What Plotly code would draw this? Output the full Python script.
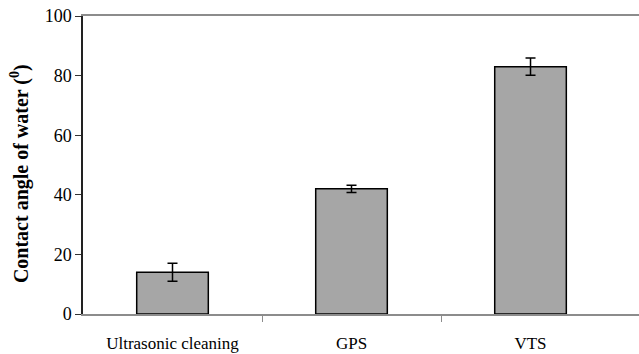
import plotly.graph_objects as go

categories = ["Ultrasonic cleaning", "GPS", "VTS"]
contact_angle = [14, 42, 83]
error = [3, 1.2, 2.9]
y_ticks = [0, 20, 40, 60, 80, 100]

x_pos = list(range(len(categories)))
SERIF = "Times New Roman, Liberation Serif, DejaVu Serif, serif"

fig = go.Figure()
fig.add_trace(go.Bar(
    x=x_pos, y=contact_angle, width=0.4,
    marker=dict(color="#a6a6a6", line=dict(color="black", width=1.5)),
    error_y=dict(type="data", array=error, visible=True, color="black",
                 thickness=1.5, width=5),
))

fig.update_layout(
    width=639, height=354,
    margin=dict(l=83, r=0, t=16, b=40),
    paper_bgcolor="white", plot_bgcolor="white",
    showlegend=False,
    font=dict(family=SERIF, color="black"),
    xaxis=dict(
        range=[-0.5, 2.606], tickvals=x_pos, ticktext=categories,
        ticks="", showgrid=False, zeroline=False,
        showline=True, linecolor="#8c8c8c", linewidth=1.5, mirror=True,
        tickfont=dict(size=17, family=SERIF), ticklabelstandoff=13,
        minor=dict(tickvals=[0.5, 1.5], ticks="outside", ticklen=6,
                   tickcolor="#8c8c8c", tickwidth=1, showgrid=False),
    ),
    yaxis=dict(
        range=[0, 100], tickvals=y_ticks, ticks="outside", ticklen=6,
        tickcolor="#333", tickwidth=1, showgrid=False, zeroline=False,
        showline=True, linecolor="#222", linewidth=1.5,
        tickfont=dict(size=18, family=SERIF),
    ),
)

fig.add_annotation(
    text="<b>Contact angle of water (<sup>0</sup>)</b>",
    xref="paper", yref="paper", x=-0.113, y=0.47,
    showarrow=False, textangle=-90, font=dict(size=20, family=SERIF),
    xanchor="center", yanchor="middle",
)

fig.write_html("out.html")
